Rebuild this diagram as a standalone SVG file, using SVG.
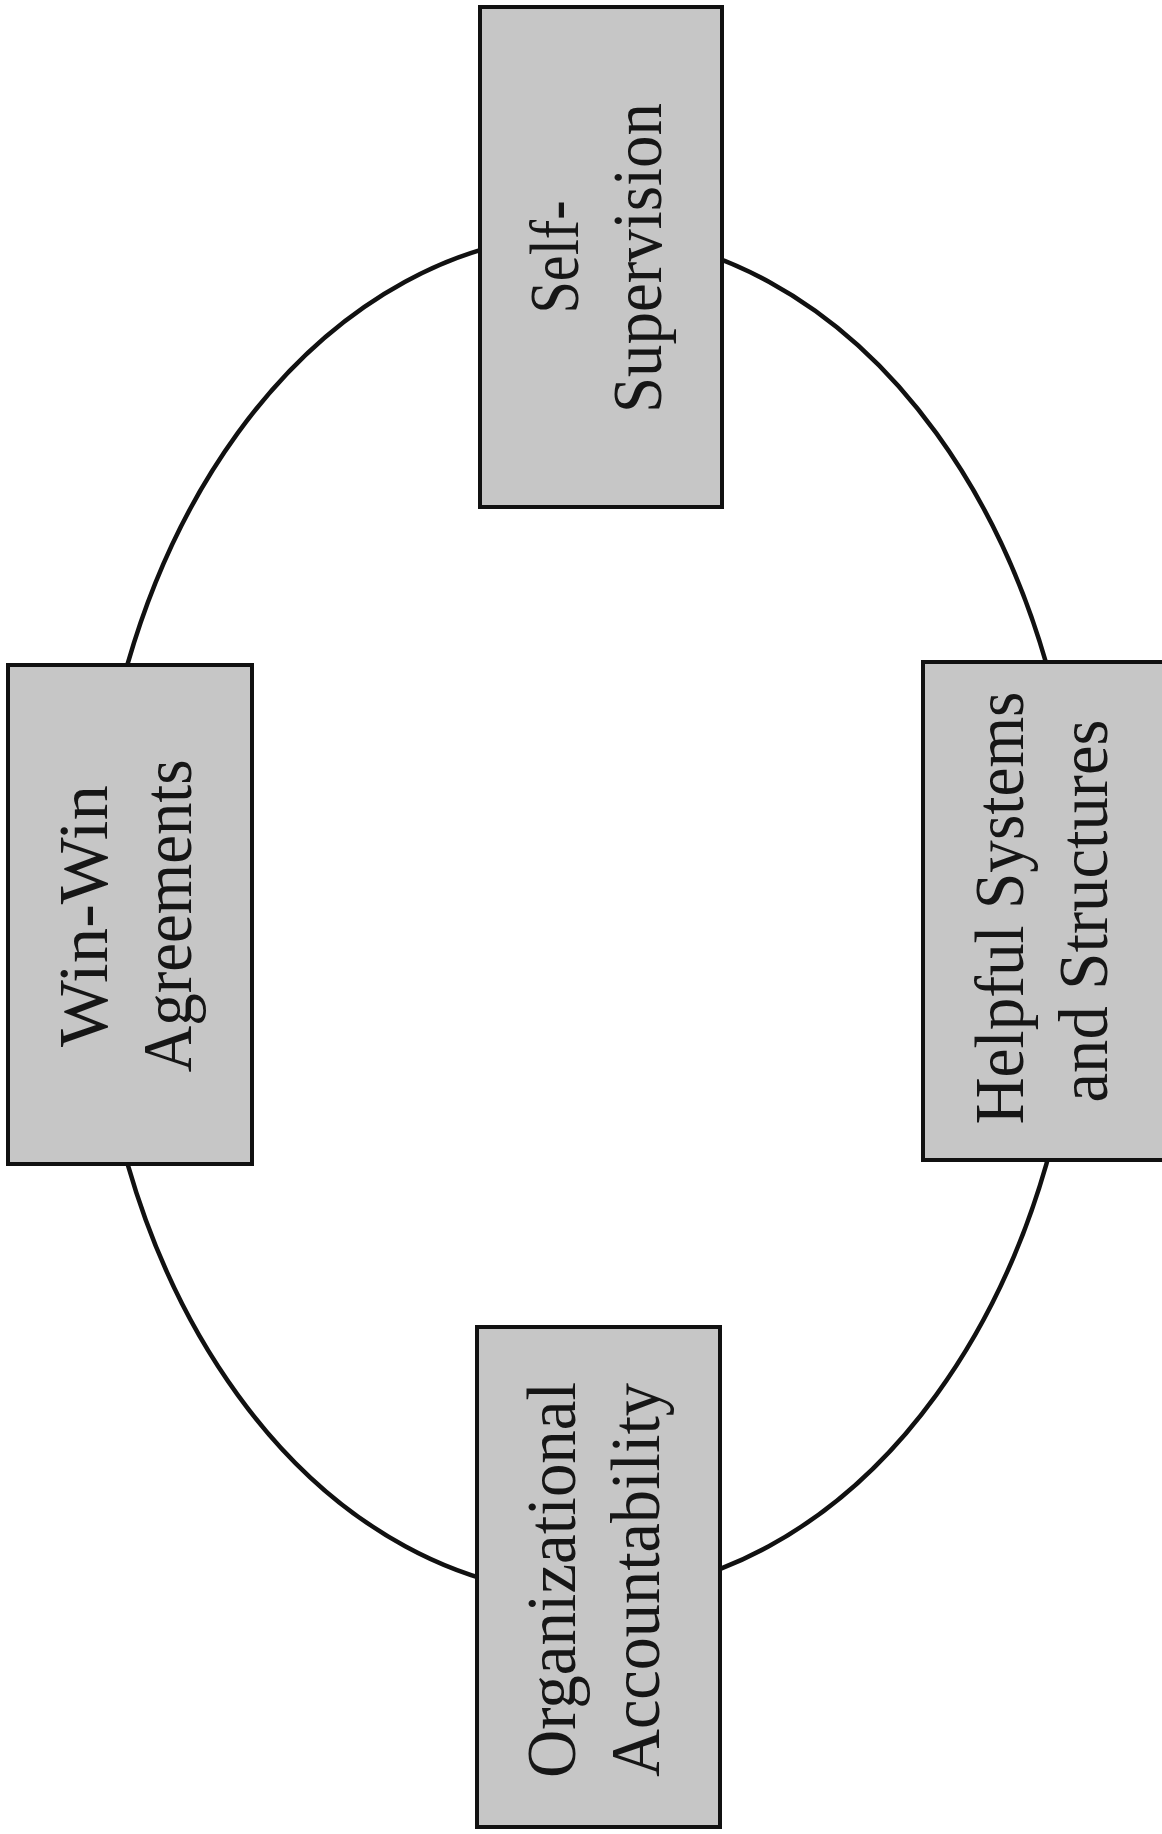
<svg xmlns="http://www.w3.org/2000/svg" width="1162" height="1834" viewBox="0 0 1162 1834">
  <style>
    .box { fill: #c6c6c6; stroke: #111; stroke-width: 4; }
    .lbl { font-family: "Liberation Serif", "Times New Roman", serif; font-size: 70px; fill: #161616; text-anchor: middle; }
    .ring { fill: none; stroke: #111; stroke-width: 4.5; }
  </style>
  <rect width="1162" height="1834" fill="#ffffff"/>
  <g id="connectors">
    <ellipse class="ring" cx="587" cy="914" rx="494" ry="680"/>
  </g>
  <g id="self-supervision">
    <rect class="box" x="480" y="7" width="242" height="500"/>
    <text class="lbl" transform="translate(578,257) rotate(-90)" textLength="113" lengthAdjust="spacingAndGlyphs">Self-</text>
    <text class="lbl" transform="translate(661,258) rotate(-90)" textLength="310" lengthAdjust="spacingAndGlyphs">Supervision</text>
  </g>
  <g id="win-win-agreements">
    <rect class="box" x="8" y="665" width="244" height="499"/>
    <text class="lbl" transform="translate(107,916) rotate(-90)" textLength="262" lengthAdjust="spacingAndGlyphs">Win-Win</text>
    <text class="lbl" transform="translate(191,916) rotate(-90)" textLength="313" lengthAdjust="spacingAndGlyphs">Agreements</text>
  </g>
  <g id="helpful-systems">
    <rect class="box" x="923" y="662" width="260" height="498"/>
    <text class="lbl" transform="translate(1023,908) rotate(-90)" textLength="433" lengthAdjust="spacingAndGlyphs">Helpful Systems</text>
    <text class="lbl" transform="translate(1107,911) rotate(-90)" textLength="383" lengthAdjust="spacingAndGlyphs">and Structures</text>
  </g>
  <g id="organizational-accountability">
    <rect class="box" x="477" y="1327" width="243" height="500"/>
    <text class="lbl" transform="translate(575,1580) rotate(-90)" textLength="396" lengthAdjust="spacingAndGlyphs">Organizational</text>
    <text class="lbl" transform="translate(659,1580) rotate(-90)" textLength="394" lengthAdjust="spacingAndGlyphs">Accountability</text>
  </g>
</svg>
